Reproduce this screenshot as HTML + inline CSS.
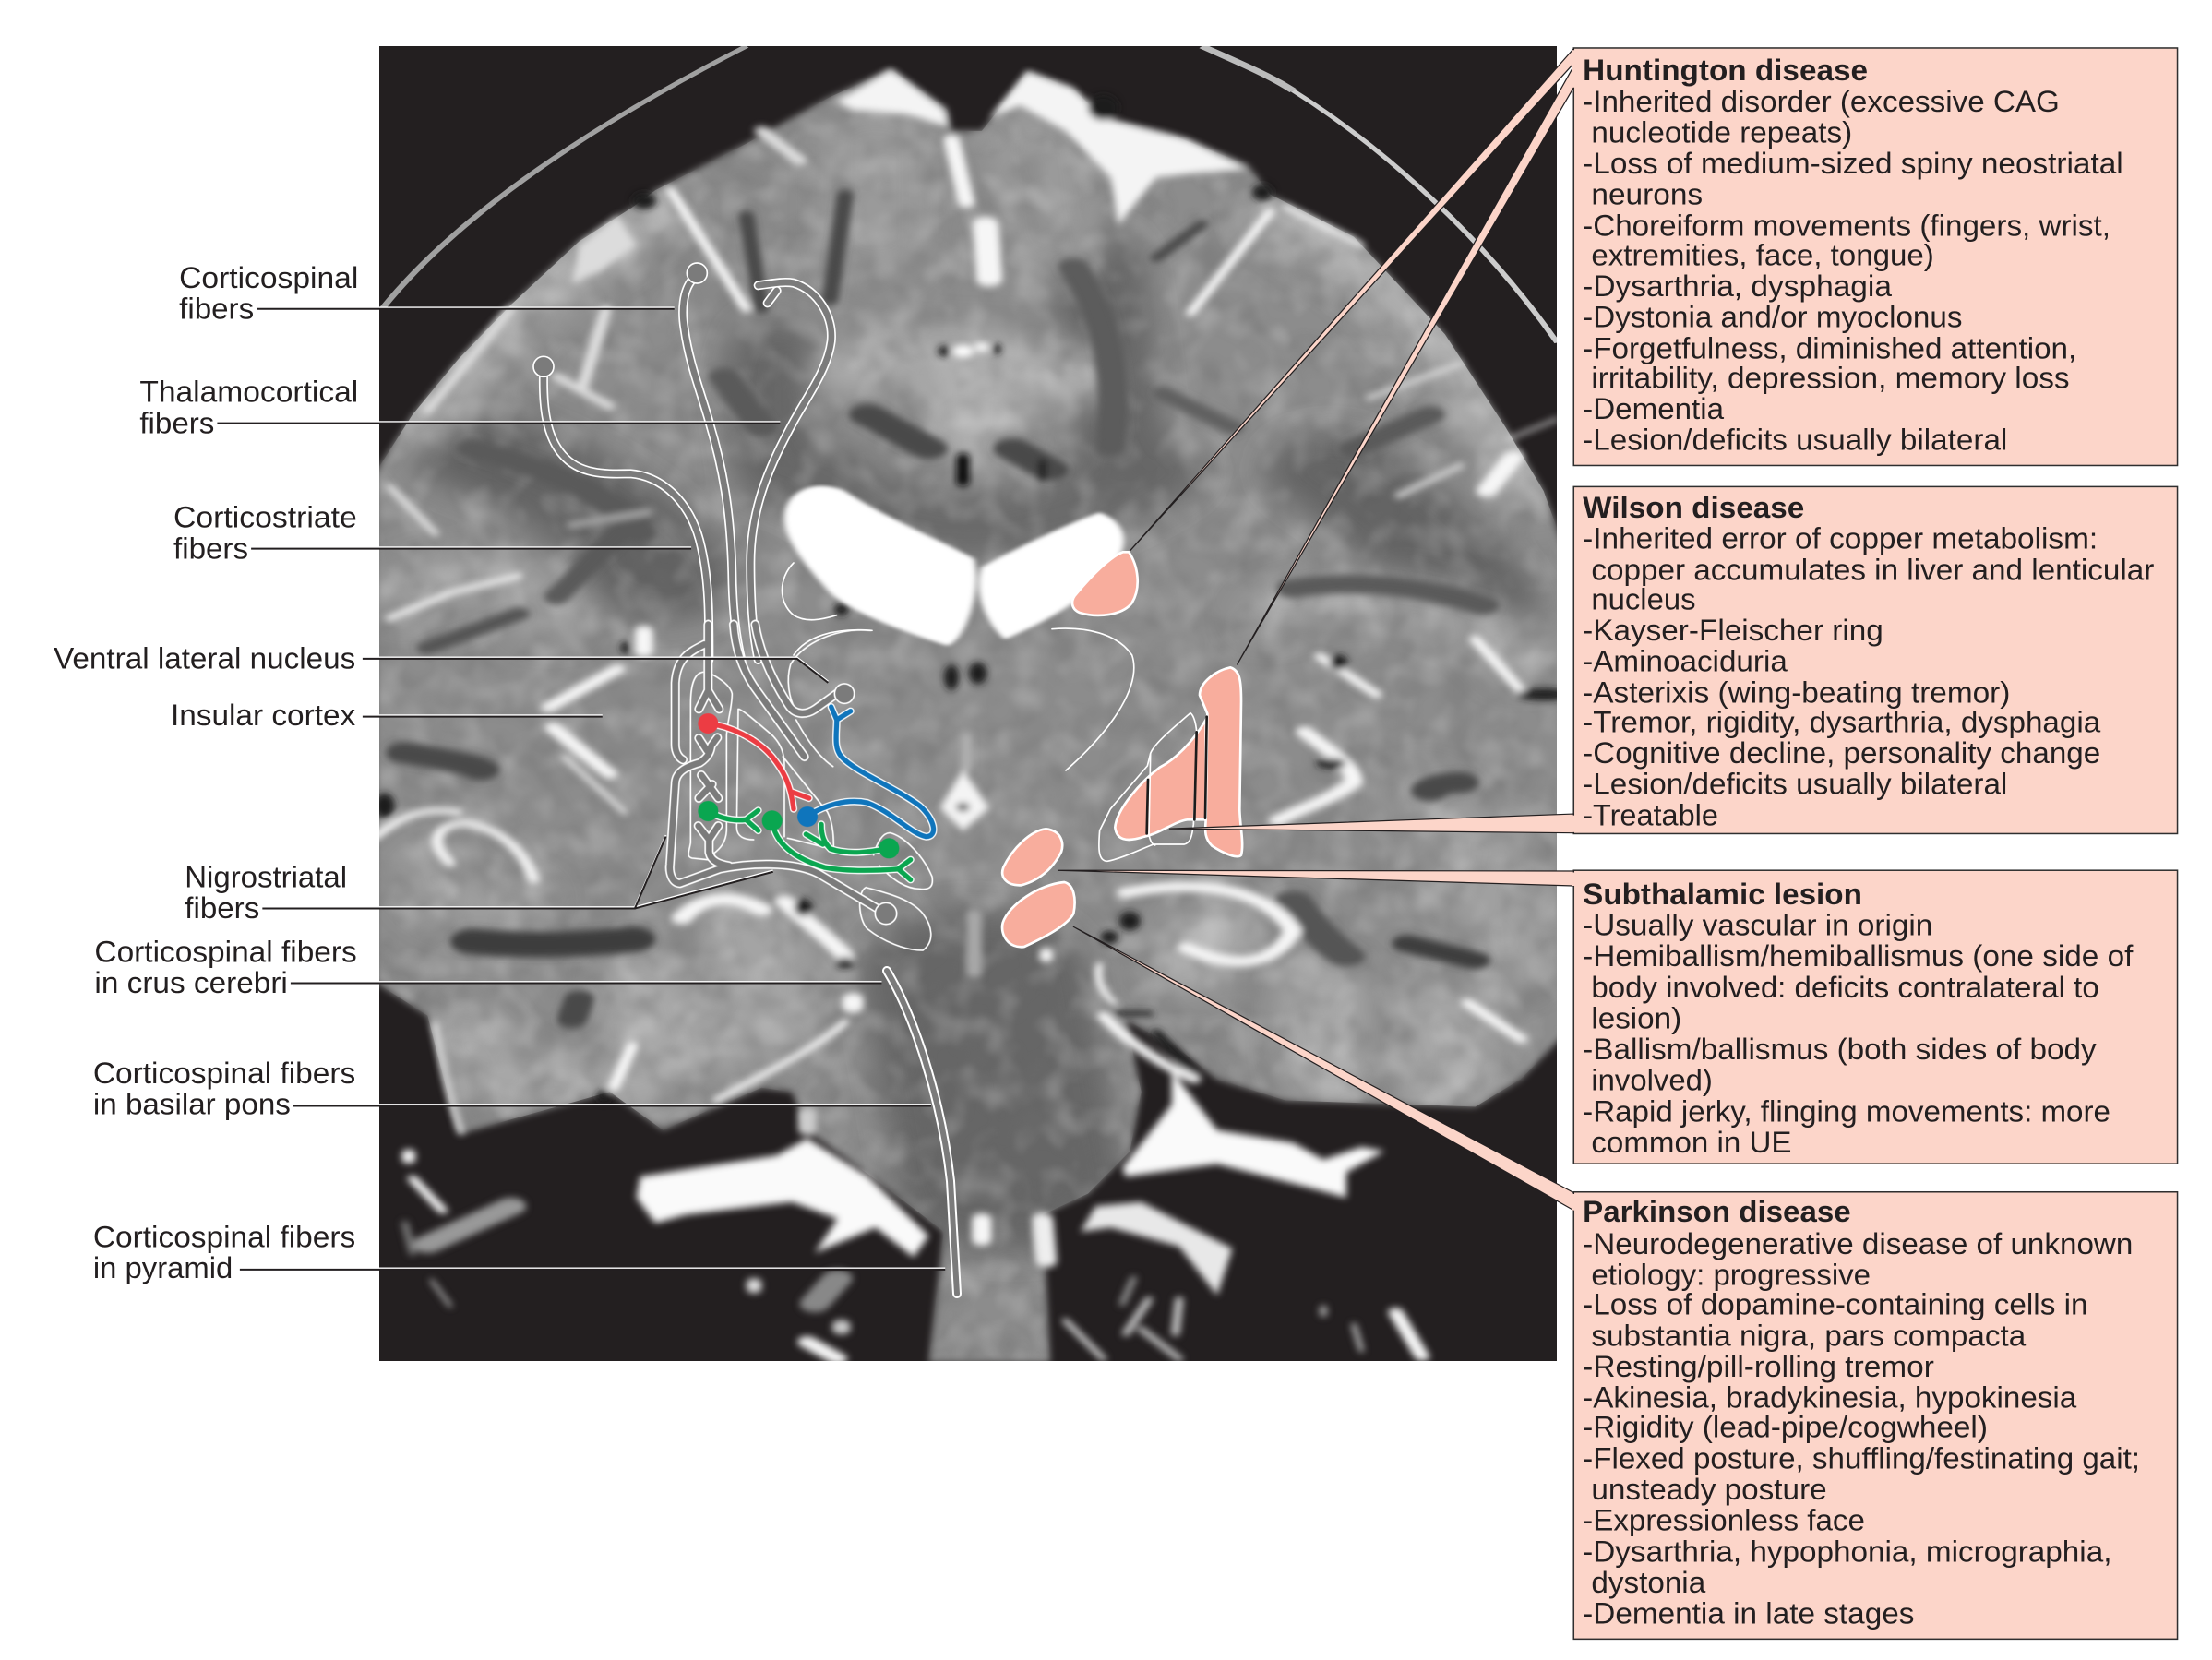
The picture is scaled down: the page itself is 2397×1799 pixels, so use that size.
<!DOCTYPE html>
<html><head><meta charset="utf-8"><style>html,body{margin:0;padding:0;background:#fff}svg{display:block}
text{font-family:"Liberation Sans",sans-serif;font-size:21.5px;fill:#231f20}
.w{fill:#f4f4f4}.d{fill:none;stroke:#4a4a4a;stroke-linecap:round;stroke-linejoin:round}.l{fill:none;stroke:#f6f6f6;stroke-linecap:round;stroke-linejoin:round}
.t1{fill:none;stroke:#fff;stroke-width:30;stroke-linecap:round;stroke-linejoin:round}.t2{fill:none;stroke:#7b7b7b;stroke-width:20;stroke-linecap:round;stroke-linejoin:round}
.o{fill:none;stroke:#fff;stroke-width:5;stroke-linecap:round;stroke-linejoin:round}
.p{fill:#f8ad9d;stroke:#fff;stroke-width:8}
</style></head><body>
<svg width="2397" height="1799" viewBox="0 0 2397 1799" xmlns="http://www.w3.org/2000/svg">
<defs>
<filter id="b" x="-5%" y="-5%" width="110%" height="110%"><feGaussianBlur stdDeviation="4"/></filter>
<filter id="b2" x="-10%" y="-10%" width="120%" height="120%"><feGaussianBlur stdDeviation="16"/></filter>
<filter id="n" x="0" y="0" width="100%" height="100%"><feTurbulence type="fractalNoise" baseFrequency="0.03" numOctaves="2" seed="7"/><feColorMatrix values="0 0 0 0 0.15  0 0 0 0 0.15  0 0 0 0 0.15  1.8 0 0 0 -0.75"/><feGaussianBlur stdDeviation="2.5"/></filter>
<filter id="n2" x="0" y="0" width="100%" height="100%"><feTurbulence type="fractalNoise" baseFrequency="0.03" numOctaves="2" seed="23"/><feColorMatrix values="0 0 0 0 1  0 0 0 0 1  0 0 0 0 1  1.8 0 0 0 -0.8"/><feGaussianBlur stdDeviation="2.5"/></filter>
<clipPath id="im"><rect x="411" y="50" width="1276" height="1425"/></clipPath>
<clipPath id="ts">
<path transform="translate(414,50) scale(.8227,.4592)" d="M-10,1010L40,870L100,740L170,610L260,460L330,380L360,340L480,230L590,120L670,55L745,150L750,200L790,200L830,110L850,60L910,100L950,170L1040,210L1140,280L1170,350L1280,450L1400,680L1480,900L1530,1050L1560,1200V1580H-10Z"/>
<path transform="translate(414,770) scale(.8227,.4592)" d="M-10,-10H1560V760L1500,870L1440,935L1190,920L1100,870L1050,800L980,730L1000,900L985,1040L930,1140L870,1190L880,1540H720L740,1230L660,1120L560,990L540,900L500,890L370,990L300,900L200,950L100,1000L60,720L-10,640Z"/>
</clipPath>
</defs>
<rect width="2397" height="1799" fill="#fff"/>
<rect x="411" y="50" width="1276" height="1425" fill="#231f20"/>
<g clip-path="url(#im)">
<g transform="translate(414,50) scale(.8227,.4592)" fill="none" stroke="#a0a0a0" stroke-width="9">
<path d="M0,620C90,420 250,210 480,0"/><path d="M1080,0C1130,40 1170,70 1200,105" stroke="#bbb" stroke-width="12"/><path d="M1200,105C1320,240 1450,450 1548,700" stroke="#ccc" stroke-width="8"/>
</g>
<g filter="url(#b)">
<g transform="translate(414,50) scale(.8227,.4592)">
<path fill="#8c8c8c" d="M-10,1010L40,870L100,740L170,610L260,460L330,380L360,340L480,230L590,120L670,55L745,150L750,200L790,200L830,110L850,60L910,100L950,170L1040,210L1140,280L1170,350L1280,450L1400,680L1480,900L1530,1050L1560,1200V1580H-10Z"/>
</g>
<g transform="translate(414,770) scale(.8227,.4592)">
<path fill="#8c8c8c" d="M-10,-10H1560V760L1500,870L1440,935L1190,920L1100,870L1050,800L980,730L1000,900L985,1040L930,1140L870,1190L880,1540H720L740,1230L660,1120L560,990L540,900L500,890L370,990L300,900L200,950L100,1000L60,720L-10,640Z"/>
</g>
</g>
<g clip-path="url(#ts)">
<g filter="url(#b2)">
<g transform="translate(414,50) scale(.8227,.4592)" fill="none" stroke-linecap="round">
<path d="M560,1000C680,1180 860,1180 1010,1000" stroke="#6a6a6a" stroke-width="150"/>
<path d="M130,960C220,1020 330,1110 370,1260" stroke="#626262" stroke-width="180"/>
<path d="M1250,1000C1330,1100 1400,1200 1440,1320" stroke="#646464" stroke-width="170"/>
<path d="M940,500C960,700 960,850 980,1000" stroke="#666" stroke-width="120"/>
<path d="M520,700C500,800 510,900 520,1020" stroke="#666" stroke-width="110"/>
<path d="M620,760C700,700 860,720 910,790" stroke="#adadad" stroke-width="110"/>
<path d="M780,800V930" stroke="#b0b0b0" stroke-width="120"/>
<path d="M650,200V480" stroke="#9a9a9a" stroke-width="140"/><path d="M860,200L880,480" stroke="#9a9a9a" stroke-width="130"/>
<path d="M40,880C110,700 220,520 350,400" stroke="#aeaeae" stroke-width="110"/>
<path d="M1190,400C1320,520 1450,740 1520,1030" stroke="#aeaeae" stroke-width="110"/>
<path d="M30,1300C100,1220 180,1250 220,1350" stroke="#a6a6a6" stroke-width="90"/>
<path d="M1170,1340C1300,1250 1430,1300 1500,1450" stroke="#a2a2a2" stroke-width="90"/>
</g>
<g transform="translate(414,770) scale(.8227,.4592)" fill="none" stroke-linecap="round">
<path d="M780,620L830,1130" stroke="#666" stroke-width="300"/>
<path d="M110,760C130,850 180,900 250,880" stroke="#a8a8a8" stroke-width="110"/>
<path d="M340,640C370,720 360,830 330,900" stroke="#a8a8a8" stroke-width="110"/>
<path d="M480,520C520,600 510,700 470,790" stroke="#a4a4a4" stroke-width="130"/>
<path d="M60,360C70,470 120,480 180,450" stroke="#a0a0a0" stroke-width="90"/>
<path d="M1100,500C1090,560 1080,590 1060,600" stroke="#b0b0b0" stroke-width="110"/>
<path d="M1240,650C1240,750 1230,820 1250,880" stroke="#a8a8a8" stroke-width="110"/>
<path d="M1400,720C1420,800 1420,860 1400,900" stroke="#a8a8a8" stroke-width="120"/>
<path d="M1420,400C1480,440 1500,520 1480,600" stroke="#a0a0a0" stroke-width="110"/>
<path d="M1370,200C1400,260 1420,300 1480,320" stroke="#a0a0a0" stroke-width="90"/>
</g>
</g>
<rect x="411" y="50" width="1276" height="1425" filter="url(#n)" opacity=".5"/>
<rect x="411" y="50" width="1276" height="1425" filter="url(#n2)" opacity=".28"/>
</g>
<g filter="url(#b)">
<g transform="translate(414,50) scale(.8227,.4592)" class="d">
<path d="M610,350L590,600" stroke-width="22"/><path d="M910,520C960,650 970,800 960,950" stroke-width="40" stroke="#5c5c5c"/><path d="M480,400L500,620" stroke-width="20"/>
<path d="M450,780L500,900" stroke-width="40" stroke="#5a5a5a"/><path d="M640,870L720,950" stroke-width="50"/><path d="M830,950L880,1000" stroke-width="50"/>
<path d="M120,950C220,1000 300,1050 340,1150" stroke-width="44" stroke="#5a5a5a"/><path d="M230,1300L340,1100" stroke-width="34" stroke="#5a5a5a"/><path d="M60,1420L180,1340" stroke-width="30" stroke="#555"/>
<path d="M1280,950L1380,870" stroke-width="40" stroke="#5a5a5a"/><path d="M1200,1280C1300,1250 1400,1290 1450,1320" stroke-width="44" stroke="#5a5a5a"/><path d="M1080,420L1020,500" stroke-width="18"/><path d="M1030,820L1120,900" stroke-width="30" stroke="#606060"/>
<path d="M765,970V1030" stroke-width="18" stroke="#111"/><path d="M870,980V1020" stroke-width="12" stroke="#222"/>
</g>
<g transform="translate(414,50) scale(.8227,.4592)" class="l">
<path stroke="none" fill="#f4f4f4" d="M600,130L670,55L740,150L745,190L690,160L620,150Z"/>
<path stroke="none" fill="#f4f4f4" d="M800,170L850,60L910,100L950,170L1060,220L1140,290L1070,300L1020,310L970,420L960,310L900,200L840,140Z"/>
<path d="M750,220L770,370" stroke-width="22"/><path d="M795,420L800,550" stroke-width="34"/>
<path d="M380,340L480,620" stroke-width="14"/><path d="M500,200L550,270" stroke-width="20" stroke="#ddd"/><path d="M1170,390L1065,630" stroke-width="14"/>
<path d="M1190,380L1290,470" stroke-width="10"/><path stroke="none" fill="#dcdcdc" d="M260,470L310,400L335,470L290,530L250,560Z"/>
<path d="M170,620L60,860" stroke-width="14" stroke="#ddd"/><path d="M295,620L265,800" stroke-width="16" stroke="#ddd"/><path d="M230,780L300,850" stroke-width="16" stroke="#ddd"/>
<path d="M10,1350L90,1290L180,1250" stroke-width="12"/><path d="M220,1560L310,1470" stroke-width="22"/><path d="M345,1380V1430" stroke-width="24"/>
<path d="M1235,1440L1310,1530" stroke-width="16"/><path d="M1440,1400L1500,1520" stroke-width="16"/><path d="M1340,1060L1420,990" stroke-width="14" stroke="#ccc"/><path d="M1455,1050L1490,970" stroke-width="28"/>
<path d="M1300,830L1420,750" stroke-width="10" stroke="#ddd"/><path d="M10,1040L70,1150" stroke-width="12" stroke="#ddd"/><path d="M250,1130L350,1100" stroke-width="14" stroke="#aaa"/>
<path d="M1548,880L1480,930" stroke-width="6" stroke="#ddd"/>
</g>
<g transform="translate(414,50) scale(.8227,.4592)" fill="#1c1c1c" stroke="none">
<ellipse cx="750" cy="1490" rx="10" ry="30"/><ellipse cx="785" cy="1480" rx="12" ry="26"/><ellipse cx="1260" cy="1455" rx="12" ry="18"/><ellipse cx="1530" cy="1530" rx="35" ry="14"/><ellipse cx="605" cy="1330" rx="10" ry="14"/><ellipse cx="320" cy="1420" rx="6" ry="14"/>
<ellipse cx="950" cy="145" rx="20" ry="30"/><ellipse cx="345" cy="365" rx="16" ry="20"/><ellipse cx="1160" cy="345" rx="14" ry="20"/>
<circle cx="765" cy="720" r="14" fill="#fff"/><circle cx="790" cy="710" r="10" fill="#fff"/><ellipse cx="740" cy="720" rx="8" ry="12"/><ellipse cx="810" cy="715" rx="6" ry="12"/>
</g>
<g transform="translate(414,770) scale(.8227,.4592)" class="d">
<path d="M30,100C60,110 110,120 130,140" stroke-width="50"/><path d="M120,545C200,560 280,550 330,540" stroke-width="60" stroke="#3d3d3d"/><path d="M260,680L250,730" stroke-width="40"/>
<path d="M1200,450C1220,500 1240,540 1270,580" stroke-width="50" stroke="#555"/><path d="M1350,550L1440,590" stroke-width="40" stroke="#3d3d3d"/><path d="M1420,170C1400,170 1380,180 1380,190" stroke-width="50"/>
<path d="M1020,760L1070,860" stroke="#232323" stroke-width="16"/><path d="M970,715L1010,715" stroke="#2a2a2a" stroke-width="14"/>
</g>
<g transform="translate(414,770) scale(.8227,.4592)" class="l">
<path d="M90,360C60,310 70,270 110,265C160,280 190,340 200,400" stroke="#f0f0f0" stroke-width="16"/><path d="M-10,300C30,240 60,230 100,240" stroke-width="14"/><path d="M225,40L300,150" stroke-width="22"/><path d="M240,110L320,240" stroke-width="10" stroke="#ddd"/>
<path d="M395,490C420,440 460,430 500,470" stroke-width="28"/><path d="M530,450C560,500 590,540 610,580" stroke-width="26"/><path d="M620,680V700" stroke-width="28"/>
<path d="M70,740C80,840 90,930 105,995" stroke-width="8" stroke="#ddd"/><path d="M330,790L305,890" stroke-width="16"/><path d="M440,920C500,860 570,800 610,735" stroke-width="12"/><path d="M560,950V990" stroke-width="24" stroke="#ccc"/>
<path d="M980,430C1060,400 1160,410 1200,520C1180,590 1130,620 1060,560" stroke-width="24"/>
<path d="M950,720C980,780 1030,840 1070,870" stroke-width="18"/><path d="M945,600C940,640 950,670 965,690" stroke-width="10"/>
<path d="M1215,50C1250,100 1280,130 1280,170C1240,220 1210,230 1180,260" stroke-width="24"/><path d="M1430,690L1500,775" stroke-width="18"/>
<path d="M770,60V140" stroke="#b0b0b0" stroke-width="14"/><path d="M875,570V585" stroke-width="18"/><path d="M780,480V620" stroke="#a8a8a8" stroke-width="20"/>
<path stroke="none" fill="#f4f4f4" d="M765,140L800,230L765,285L735,230Z"/>
<path stroke="none" fill="#fafafa" d="M340,1100L520,1050L560,1010L640,1100L720,1240L700,1290L650,1220L570,1280L600,1200L540,1160L400,1190L360,1210L335,1150Z"/>
<path stroke="none" fill="#fafafa" d="M975,1080L1040,930L1040,850L1070,920L1100,990L1200,1020L1240,1060L1290,1030L1320,1040L1270,1090L1270,1150L1230,1130L1100,1070L980,1100Z"/>
<path stroke="none" fill="#e8e8e8" d="M940,1170L1000,1160L1120,1270L1100,1380L1050,1265L960,1220L920,1230Z"/>
<path d="M790,1200V1250" stroke-width="26"/><path d="M870,1200L875,1300" stroke-width="28" stroke="#eee"/>
<path d="M35,1045V1060" stroke-width="18"/><path d="M40,1105L80,1180" stroke-width="14"/><path d="M60,1260L170,1170" stroke-width="40" stroke="#999"/><path d="M30,1210L40,1280" stroke-width="10" stroke="#777"/>
<path d="M570,1400L600,1340" stroke-width="40" stroke="#888"/><path d="M605,1450V1460" stroke-width="24" stroke="#ccc"/><path d="M560,1490L600,1530" stroke-width="26"/><path d="M490,1350V1365" stroke-width="20" stroke="#ddd"/><path d="M65,1345L90,1405" stroke-width="6" stroke="#aaa"/>
<path d="M990,1340L975,1400" stroke-width="10" stroke="#888"/><path d="M1010,1390L980,1470M1050,1390L1045,1470M1000,1460L1050,1530" stroke-width="12" stroke="#bbb"/><path d="M1335,1420L1370,1525" stroke-width="20"/><path d="M1240,1410V1425" stroke-width="10" stroke="#aaa"/><path d="M900,1440L950,1530" stroke-width="10" stroke="#ccc"/><path d="M1280,1450L1290,1510" stroke-width="8" stroke="#aaa"/>
</g>
<g transform="translate(414,770) scale(.8227,.4592)" fill="#1a1a1a">
<circle cx="765" cy="228" r="9"/><ellipse cx="555" cy="465" rx="12" ry="20"/><ellipse cx="610" cy="595" rx="12" ry="12"/><ellipse cx="985" cy="497" rx="14" ry="22"/><ellipse cx="958" cy="535" rx="12" ry="16"/><ellipse cx="1250" cy="125" rx="20" ry="12"/><ellipse cx="3" cy="225" rx="14" ry="30"/><ellipse cx="292" cy="910" rx="10" ry="14"/>
</g>
</g>
<g transform="translate(414,50) scale(.8227,.4592)" fill="#fff" filter="url(#b)">
<path d="M530,1100C535,1050 570,1020 610,1050C660,1110 740,1170 780,1210C790,1280 770,1400 745,1415C700,1390 620,1340 590,1290C560,1230 525,1160 530,1100Z"/>
<path d="M790,1230C840,1180 900,1130 945,1100C975,1120 985,1160 970,1210C950,1270 900,1340 820,1400C790,1350 780,1280 790,1230Z"/>
</g>
</g>

<g transform="scale(1.5287)" fill="#fcd5c9" stroke="#2f2f2f" stroke-width="1">
<rect x="1115.5" y="34" width="428" height="296"/>
<rect x="1115.5" y="345" width="428" height="246"/>
<rect x="1115.5" y="617" width="428" height="208"/>
<rect x="1115.5" y="845" width="428" height="317"/>
</g>

<g transform="translate(1050,560) scale(.33333)">
<path class="p" d="M520,115C550,160 560,230 530,280C500,320 420,330 360,312C330,300 330,270 350,250C400,190 460,130 500,115Z"/>
<path class="p" d="M770,660C730,730 670,790 620,815C560,860 480,950 475,1010C480,1050 510,1060 570,1040C620,1030 670,990 710,985L770,985Z" stroke-width="6"/>
<path class="p" d="M850,490C880,500 885,530 885,600L880,950C880,1000 895,1060 885,1100C870,1115 820,1090 790,1070C760,1040 770,1010 770,980L775,640L750,580C750,540 800,500 850,490Z"/>
<path class="p" d="M250,1015C300,1020 310,1060 300,1090C280,1130 240,1180 170,1198C120,1200 100,1170 112,1140C140,1080 200,1020 250,1015Z"/>
<path class="p" d="M310,1188C340,1195 350,1240 340,1290C320,1330 240,1370 180,1398C130,1405 100,1360 110,1320C130,1260 230,1195 310,1188Z"/>
<g class="o" stroke-width="6">
<path d="M720,638C660,690 600,740 590,770L580,810L460,950L425,1020C420,1080 420,1120 450,1120C500,1110 560,1080 600,1065L700,1065C720,1060 725,1040 730,1000L740,700C738,670 730,645 720,638Z"/>
<path d="M590,770L585,1035C590,1055 595,1065 605,1068"/>
<path d="M270,365C400,355 490,390 530,450C560,540 480,680 315,825"/>
</g>
<g fill="none" stroke="#1c1c1c" stroke-width="8" stroke-linecap="round"><path d="M582,855L578,1030M740,700L733,985M773,650L768,980"/></g>
</g>

<g transform="scale(1.5287)" stroke-linejoin="round">
<g fill="#fcd5c9" stroke="#231f20" stroke-width=".8">
<path d="M1115.5,34.5L801,390.5L1115.5,45Z"/>
<path d="M1115.5,47L877,471L1115.5,62Z"/>
<path d="M829,587.5L1115.5,577L1115.5,590.5Z"/>
<path d="M750,617L1115.5,617.5L1115.5,628Z"/>
<path d="M761,657L1115.5,845.5L1115.5,858Z"/>
</g>
<path d="M1115.5,35.5V62M1115.5,578V590M1115.5,618.5V628M1115.5,846.5V858" stroke="#fcd5c9" stroke-width="1.8"/>
</g>

<g transform="translate(520,260) scale(.33333)">
<path class="t1" d="M690,130C660,165 655,230 665,290C680,400 720,500 745,590C790,740 815,880 820,1080C822,1220 835,1300 850,1365"/>
<path class="t1" d="M905,148C960,140 990,135 1020,140C1100,165 1150,250 1142,330C1130,420 1070,500 1020,590C950,720 880,860 880,1050C880,1200 890,1290 905,1365"/>
<path class="t1" d="M965,165L935,205"/>
<path class="t1" d="M207,440C205,540 215,640 270,700C330,770 430,760 490,760C600,770 690,860 720,1000C745,1110 745,1220 745,1365"/>
<path class="t2" d="M690,130C660,165 655,230 665,290C680,400 720,500 745,590C790,740 815,880 820,1080C822,1220 835,1300 850,1365"/>
<path class="t2" d="M905,148C960,140 990,135 1020,140C1100,165 1150,250 1142,330C1130,420 1070,500 1020,590C950,720 880,860 880,1050C880,1200 890,1290 905,1365"/>
<path class="t2" d="M965,165L935,205"/>
<path class="t2" d="M207,440C205,540 215,640 270,700C330,770 430,760 490,760C600,770 690,860 720,1000C745,1110 745,1220 745,1365"/>
<circle cx="207" cy="412" r="33" fill="#7b7b7b" stroke="#fff" stroke-width="5"/>
<circle cx="706" cy="108" r="33" fill="#7b7b7b" stroke="#fff" stroke-width="5"/>
<path class="o" d="M1020,1050C970,1100 970,1180 1020,1220C1060,1245 1110,1235 1160,1220"/>
<path class="o" d="M1020,1350C1060,1290 1150,1260 1275,1270"/>
</g>

<g transform="translate(680,680) scale(.33333)">
<g class="o">
<path d="M790,10C680,0 570,50 530,120C515,170 525,230 545,265"/>
<path d="M245,145C215,150 205,190 205,250L205,700C200,730 190,745 210,750L260,755"/>
<path d="M270,150C300,165 335,190 340,215C340,260 325,300 322,350L322,660C320,700 300,720 280,735"/>
<path d="M360,265L355,650C355,680 380,690 410,690M360,265C370,265 400,290 470,350C500,380 510,410 510,450L510,680"/>
<path d="M520,685C570,695 650,720 670,720M505,420L650,600C670,640 670,690 670,720"/>
<path d="M548,300C580,360 620,420 668,452"/>
<path d="M800,740C810,700 830,665 855,668C900,680 960,740 990,810C995,840 985,855 950,850C900,850 850,810 820,775"/>
<path d="M775,845C830,860 920,880 960,930C990,970 1000,1020 960,1050C900,1050 830,1020 780,980C750,950 745,860 775,845Z"/>
</g>
<g class="t1">
<path d="M345,-10C350,60 370,130 410,190L575,420"/>
<path d="M415,-10C430,80 470,170 525,255C545,285 580,285 610,265L680,215"/>
<path d="M262,-10V215M262,205L232,265M262,205L298,265"/>
<path d="M250,55C200,80 160,100 155,180V380C155,410 170,425 180,430"/>
<path d="M840,930L620,800C540,760 400,765 300,785L170,832C145,830 135,800 138,770L155,510C155,475 180,455 235,440C265,420 270,400 272,385M258,400L232,360M272,385L292,358"/>
<path d="M240,480L295,555M275,510L232,555"/>
<path d="M230,645L265,690M295,645L265,690V730C270,760 300,770 330,775"/>
</g>
<g class="t2">
<path d="M345,-10C350,60 370,130 410,190L575,420"/>
<path d="M415,-10C430,80 470,170 525,255C545,285 580,285 610,265L680,215"/>
<path d="M262,-10V215M262,205L232,265M262,205L298,265"/>
<path d="M250,55C200,80 160,100 155,180V380C155,410 170,425 180,430"/>
<path d="M840,930L620,800C540,760 400,765 300,785L170,832C145,830 135,800 138,770L155,510C155,475 180,455 235,440C265,420 270,400 272,385M258,400L232,360M272,385L292,358"/>
<path d="M240,480L295,555M275,510L232,555"/>
<path d="M230,645L265,690M295,645L265,690V730C270,760 300,770 330,775"/>
</g>
<circle cx="705" cy="215" r="32" fill="#7b7b7b" stroke="#fff" stroke-width="5"/>
<circle cx="840" cy="930" r="35" fill="#7b7b7b" stroke="#fff" stroke-width="5"/>
<g fill="none" stroke="#fff" stroke-width="24" stroke-linecap="round" stroke-linejoin="round">
<path d="M262,312C330,320 420,360 470,420C510,470 530,510 540,590M535,535L590,555"/>
<path d="M662,258L680,300L725,272M680,300C680,350 670,390 695,420C740,470 870,520 950,580C1000,625 1010,680 970,680C920,670 860,600 780,570C710,555 640,580 590,610"/>
<path d="M262,597C300,620 340,630 385,625M425,595L385,625L425,660"/>
<path d="M470,630C480,700 540,750 640,780C720,795 820,790 885,785M920,755L880,785L920,820"/>
<path d="M850,718C790,730 720,740 660,720C640,700 630,680 630,640M580,672L635,705"/>
</g>
<g fill="none" stroke-width="16" stroke-linecap="round" stroke-linejoin="round">
<g stroke="#ec3c43"><path d="M262,312C330,320 420,360 470,420C510,470 530,510 540,590M535,535L590,555"/></g>
<g stroke="#0f75bc"><path d="M662,258L680,300L725,272M680,300C680,350 670,390 695,420C740,470 870,520 950,580C1000,625 1010,680 970,680C920,670 860,600 780,570C710,555 640,580 590,610"/></g>
<g stroke="#0aa650"><path d="M262,597C300,620 340,630 385,625M425,595L385,625L425,660"/>
<path d="M470,630C480,700 540,750 640,780C720,795 820,790 885,785M920,755L880,785L920,820"/>
<path d="M850,718C790,730 720,740 660,720C640,700 630,680 630,640M580,672L635,705"/></g>
</g>
<circle cx="262" cy="312" r="33" fill="#ec3c43"/><circle cx="585" cy="615" r="33" fill="#0f75bc"/><circle cx="262" cy="597" r="33" fill="#0aa650"/><circle cx="470" cy="628" r="33" fill="#0aa650"/><circle cx="850" cy="718" r="33" fill="#0aa650"/>
</g>
<path d="M961,1052C990,1100 1020,1190 1030,1280L1037,1402" fill="none" stroke="#fff" stroke-width="10" stroke-linecap="round"/>
<path d="M961,1052C990,1100 1020,1190 1030,1280L1037,1402" fill="none" stroke="#7b7b7b" stroke-width="6" stroke-linecap="round"/>

<g transform="scale(1.5287)" fill="none" stroke-width="1.3">
<g stroke="#fff" transform="translate(0,-.9)">
<path d="M182,219H478M154,300H553M178,389H490M257,467H565L587,484M257,508H427M186,644H450L472,593M450,644L548,618M206,697H625M208,784H660M170,900H670"/>
</g>
<g stroke="#231f20">
<path d="M182,219H478M154,300H553M178,389H490M257,467H565L587,484M257,508H427M186,644H450L472,593M450,644L548,618M206,697H625M208,784H660M170,900H670"/>
</g>
</g>

<g transform="scale(1.5287)">
<text x="127" y="204" textLength="127" lengthAdjust="spacingAndGlyphs">Corticospinal</text>
<text x="127" y="226" textLength="53" lengthAdjust="spacingAndGlyphs">fibers</text>
<text x="99" y="285" textLength="155" lengthAdjust="spacingAndGlyphs">Thalamocortical</text>
<text x="99" y="307" textLength="53" lengthAdjust="spacingAndGlyphs">fibers</text>
<text x="123" y="374" textLength="130" lengthAdjust="spacingAndGlyphs">Corticostriate</text>
<text x="123" y="396" textLength="53" lengthAdjust="spacingAndGlyphs">fibers</text>
<text x="38" y="474" textLength="214" lengthAdjust="spacingAndGlyphs">Ventral lateral nucleus</text>
<text x="121" y="514" textLength="131" lengthAdjust="spacingAndGlyphs">Insular cortex</text>
<text x="131" y="629" textLength="115" lengthAdjust="spacingAndGlyphs">Nigrostriatal</text>
<text x="131" y="651" textLength="53" lengthAdjust="spacingAndGlyphs">fibers</text>
<text x="67" y="682" textLength="186" lengthAdjust="spacingAndGlyphs">Corticospinal fibers</text>
<text x="67" y="704" textLength="137" lengthAdjust="spacingAndGlyphs">in crus cerebri</text>
<text x="66" y="768" textLength="186" lengthAdjust="spacingAndGlyphs">Corticospinal fibers</text>
<text x="66" y="790" textLength="140" lengthAdjust="spacingAndGlyphs">in basilar pons</text>
<text x="66" y="884" textLength="186" lengthAdjust="spacingAndGlyphs">Corticospinal fibers</text>
<text x="66" y="906" textLength="99" lengthAdjust="spacingAndGlyphs">in pyramid</text>

<text x="1122" y="57" font-weight="700" textLength="202" lengthAdjust="spacingAndGlyphs">Huntington disease</text>
<text x="1122" y="79" textLength="338" lengthAdjust="spacingAndGlyphs">-Inherited disorder (excessive CAG</text>
<text x="1128" y="101" textLength="185" lengthAdjust="spacingAndGlyphs">nucleotide repeats)</text>
<text x="1122" y="123" textLength="383" lengthAdjust="spacingAndGlyphs">-Loss of medium-sized spiny neostriatal</text>
<text x="1128" y="145" textLength="79" lengthAdjust="spacingAndGlyphs">neurons</text>
<text x="1122" y="167" textLength="374" lengthAdjust="spacingAndGlyphs">-Choreiform movements (fingers, wrist,</text>
<text x="1128" y="188" textLength="243" lengthAdjust="spacingAndGlyphs">extremities, face, tongue)</text>
<text x="1122" y="210" textLength="219" lengthAdjust="spacingAndGlyphs">-Dysarthria, dysphagia</text>
<text x="1122" y="232" textLength="269" lengthAdjust="spacingAndGlyphs">-Dystonia and/or myoclonus</text>
<text x="1122" y="254" textLength="350" lengthAdjust="spacingAndGlyphs">-Forgetfulness, diminished attention,</text>
<text x="1128" y="275" textLength="339" lengthAdjust="spacingAndGlyphs">irritability, depression, memory loss</text>
<text x="1122" y="297" textLength="100" lengthAdjust="spacingAndGlyphs">-Dementia</text>
<text x="1122" y="319" textLength="301" lengthAdjust="spacingAndGlyphs">-Lesion/deficits usually bilateral</text>

<text x="1122" y="367" font-weight="700" textLength="157" lengthAdjust="spacingAndGlyphs">Wilson disease</text>
<text x="1122" y="389" textLength="365" lengthAdjust="spacingAndGlyphs">-Inherited error of copper metabolism:</text>
<text x="1128" y="411" textLength="399" lengthAdjust="spacingAndGlyphs">copper accumulates in liver and lenticular</text>
<text x="1128" y="432" textLength="74" lengthAdjust="spacingAndGlyphs">nucleus</text>
<text x="1122" y="454" textLength="213" lengthAdjust="spacingAndGlyphs">-Kayser-Fleischer ring</text>
<text x="1122" y="476" textLength="145" lengthAdjust="spacingAndGlyphs">-Aminoaciduria</text>
<text x="1122" y="498" textLength="303" lengthAdjust="spacingAndGlyphs">-Asterixis (wing-beating tremor)</text>
<text x="1122" y="519" textLength="367" lengthAdjust="spacingAndGlyphs">-Tremor, rigidity, dysarthria, dysphagia</text>
<text x="1122" y="541" textLength="367" lengthAdjust="spacingAndGlyphs">-Cognitive decline, personality change</text>
<text x="1122" y="563" textLength="301" lengthAdjust="spacingAndGlyphs">-Lesion/deficits usually bilateral</text>
<text x="1122" y="585" textLength="96" lengthAdjust="spacingAndGlyphs">-Treatable</text>

<text x="1122" y="641" font-weight="700" textLength="198" lengthAdjust="spacingAndGlyphs">Subthalamic lesion</text>
<text x="1122" y="663" textLength="248" lengthAdjust="spacingAndGlyphs">-Usually vascular in origin</text>
<text x="1122" y="685" textLength="390" lengthAdjust="spacingAndGlyphs">-Hemiballism/hemiballismus (one side of</text>
<text x="1128" y="707" textLength="360" lengthAdjust="spacingAndGlyphs">body involved: deficits contralateral to</text>
<text x="1128" y="729" textLength="64" lengthAdjust="spacingAndGlyphs">lesion)</text>
<text x="1122" y="751" textLength="364" lengthAdjust="spacingAndGlyphs">-Ballism/ballismus (both sides of body</text>
<text x="1128" y="773" textLength="86" lengthAdjust="spacingAndGlyphs">involved)</text>
<text x="1122" y="795" textLength="374" lengthAdjust="spacingAndGlyphs">-Rapid jerky, flinging movements: more</text>
<text x="1128" y="817" textLength="142" lengthAdjust="spacingAndGlyphs">common in UE</text>

<text x="1122" y="866" font-weight="700" textLength="190" lengthAdjust="spacingAndGlyphs">Parkinson disease</text>
<text x="1122" y="889" textLength="390" lengthAdjust="spacingAndGlyphs">-Neurodegenerative disease of unknown</text>
<text x="1128" y="911" textLength="198" lengthAdjust="spacingAndGlyphs">etiology: progressive</text>
<text x="1122" y="932" textLength="358" lengthAdjust="spacingAndGlyphs">-Loss of dopamine-containing cells in</text>
<text x="1128" y="954" textLength="308" lengthAdjust="spacingAndGlyphs">substantia nigra, pars compacta</text>
<text x="1122" y="976" textLength="249" lengthAdjust="spacingAndGlyphs">-Resting/pill-rolling tremor</text>
<text x="1122" y="998" textLength="350" lengthAdjust="spacingAndGlyphs">-Akinesia, bradykinesia, hypokinesia</text>
<text x="1122" y="1019" textLength="287" lengthAdjust="spacingAndGlyphs">-Rigidity (lead-pipe/cogwheel)</text>
<text x="1122" y="1041" textLength="395" lengthAdjust="spacingAndGlyphs">-Flexed posture, shuffling/festinating gait;</text>
<text x="1128" y="1063" textLength="167" lengthAdjust="spacingAndGlyphs">unsteady posture</text>
<text x="1122" y="1085" textLength="200" lengthAdjust="spacingAndGlyphs">-Expressionless face</text>
<text x="1122" y="1107" textLength="375" lengthAdjust="spacingAndGlyphs">-Dysarthria, hypophonia, micrographia,</text>
<text x="1128" y="1129" textLength="81" lengthAdjust="spacingAndGlyphs">dystonia</text>
<text x="1122" y="1151" textLength="235" lengthAdjust="spacingAndGlyphs">-Dementia in late stages</text>
</g>
</svg>
</body></html>
